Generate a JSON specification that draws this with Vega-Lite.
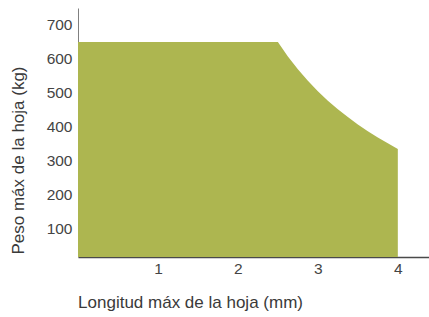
{
  "$schema": "https://vega.github.io/schema/vega-lite/v6.json",
  "width": 351,
  "height": 249,
  "autosize": {"type": "none"},
  "padding": {"left": 78, "top": 8, "right": 0, "bottom": 60},
  "background": "white",
  "config": {
    "view": {"stroke": null},
    "font": "Liberation Sans",
    "axis": {
      "grid": false,
      "ticks": false,
      "labelFont": "Liberation Sans",
      "labelFontSize": 15.5,
      "labelColor": "#444444",
      "titleFont": "Liberation Sans",
      "titleFontSize": 17,
      "titleFontWeight": "normal",
      "titleColor": "#3a3a3a"
    }
  },
  "data": {
    "values": [
      {"x": 0, "y": 650},
      {"x": 2.5, "y": 650},
      {"x": 2.625, "y": 607},
      {"x": 2.75, "y": 569},
      {"x": 2.875, "y": 535},
      {"x": 3.0, "y": 504},
      {"x": 3.125, "y": 476},
      {"x": 3.25, "y": 451},
      {"x": 3.375, "y": 428},
      {"x": 3.5, "y": 406},
      {"x": 3.625, "y": 386},
      {"x": 3.75, "y": 368},
      {"x": 3.875, "y": 351},
      {"x": 4.0, "y": 334}
    ]
  },
  "mark": {"type": "area", "color": "#adb650", "interpolate": "linear", "opacity": 1},
  "encoding": {
    "x": {
      "field": "x",
      "type": "quantitative",
      "scale": {"domain": [0, 4.39], "nice": false, "zero": false},
      "axis": {
        "values": [1, 2, 3, 4],
        "title": "Longitud máx de la hoja (mm)",
        "domainColor": "#4a4a4a",
        "domainWidth": 1.5,
        "labelPadding": 4,
        "titleX": 112,
        "titleY": 45,
        "titleAlign": "center",
        "titleBaseline": "middle"
      }
    },
    "y": {
      "field": "y",
      "type": "quantitative",
      "scale": {"domain": [15, 750], "nice": false, "zero": false},
      "axis": {
        "values": [100, 200, 300, 400, 500, 600, 700],
        "title": "Peso máx de la hoja (kg)",
        "domainColor": "#808080",
        "domainWidth": 1,
        "labelPadding": 6,
        "titleX": -60,
        "titleY": 152,
        "titleAngle": -90,
        "titleAlign": "center",
        "titleBaseline": "middle"
      }
    },
    "y2": {"datum": 15}
  }
}
